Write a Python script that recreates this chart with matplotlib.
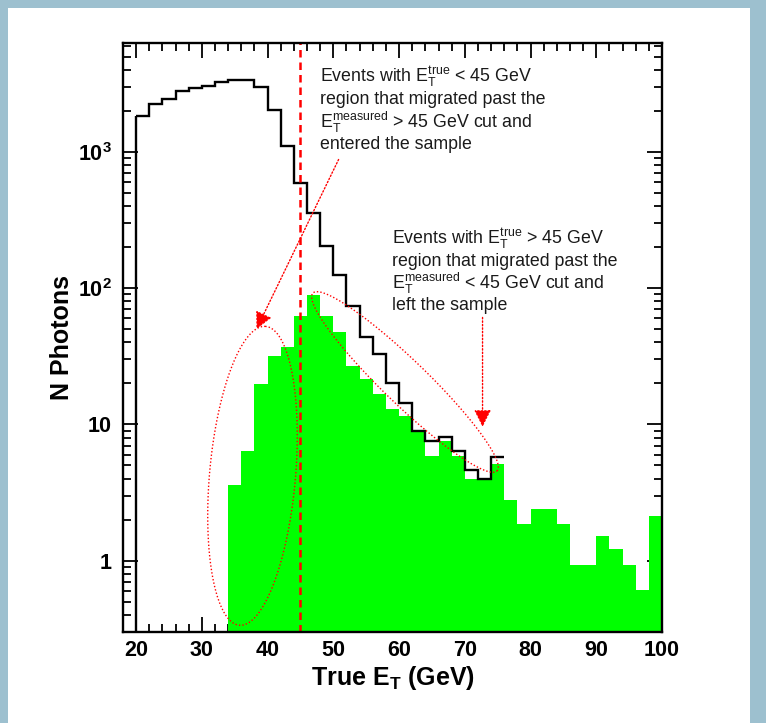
import numpy as np
import matplotlib
matplotlib.use("Agg")
import matplotlib.pyplot as plt
from matplotlib.ticker import FixedLocator, FixedFormatter, MultipleLocator, NullFormatter
from matplotlib.patches import Rectangle

plt.rcParams["font.family"] = ["Liberation Sans", "DejaVu Sans"]
plt.rcParams["mathtext.fontset"] = "custom"
plt.rcParams["mathtext.rm"] = "Liberation Sans"
plt.rcParams["mathtext.bf"] = "Liberation Sans:bold"
plt.rcParams["mathtext.it"] = "Liberation Sans:italic"

# all photons passing measured cut, vs true ET (2 GeV bins, 20..76)
black_edges = np.arange(20, 78, 2)
black_counts = [1820, 2260, 2450, 2790, 2950, 3070, 3240, 3390, 3390, 2980,
                2030, 1100, 590, 355, 203, 124, 74, 44, 33, 20,
                14.3, 9.0, 7.6, 8.1, 6.4, 4.6, 4.0, 5.8]

# migrated photons (2 GeV bins, 34..100)
green_edges = np.arange(34, 102, 2)
green_counts = [3.6, 6.4, 19.8, 32, 37, 63, 89, 63, 48, 27,
                21.5, 16.7, 13, 11.5, 9.0, 5.9, 7.6, 5.9, 4.0, 4.0,
                5.1, 2.8, 1.87, 2.4, 2.4, 1.87, 0.93, 0.93, 1.52, 1.22,
                0.93, 0.61, 2.13]

x_ticks = [20, 30, 40, 50, 60, 70, 80, 90, 100]
y_ticks = [1, 10, 100, 1000]
y_tick_labels = ["1", "10", r"$\mathbf{10^{2}}$", r"$\mathbf{10^{3}}$"]

et_cut = 45
xlim = (18, 100)
ylim = (0.3, 6300)

text_in = ["Events with $\\mathregular{E_T^{true}}$ < 45 GeV",
           "region that migrated past the",
           "$\\mathregular{E_T^{measured}}$ > 45 GeV cut and",
           "entered the sample"]
text_out = ["Events with $\\mathregular{E_T^{true}}$ > 45 GeV",
            "region that migrated past the",
            "$\\mathregular{E_T^{measured}}$ < 45 GeV cut and",
            "left the sample"]

fig = plt.figure(figsize=(7.66, 7.23), dpi=100)
fig.patches.append(Rectangle((0, 0), 1, 1, transform=fig.transFigure,
                             facecolor="#9dc0cf", edgecolor="none", zorder=-10))
fig.patches.append(Rectangle((8 / 766, 0), (750 - 8) / 766, (723 - 8) / 723,
                             transform=fig.transFigure, facecolor="white",
                             edgecolor="none", zorder=-9))

ax = fig.add_axes([123 / 766, 91 / 723, 539 / 766, 589 / 723])
ax.set_facecolor("none")
ax.set_yscale("log")
ax.set_xlim(*xlim)
ax.set_ylim(*ylim)

ax.stairs(green_counts, green_edges, fill=True, baseline=1e-3,
          color="#00ff00", zorder=2)
ax.stairs(black_counts, black_edges, baseline=None, color="black",
          lw=1.7, zorder=3)
ax.vlines(black_edges[0], ylim[0], black_counts[0], color="black", lw=1.7, zorder=3)
ax.axvline(et_cut, color="red", ls=(0, (3, 2)), lw=1.8, zorder=4)

# pixel scale of the axes, used for the dotted ellipses
w_px = 539.0
h_px = 589.0
px_per_gev = w_px / (xlim[1] - xlim[0])
px_per_dec = h_px / (np.log10(ylim[1]) - np.log10(ylim[0]))


def draw_ellipse(cx, cy, a, b, angle):
    t = np.linspace(0, 2 * np.pi, 300)
    ang = np.radians(angle)
    dx = a * np.cos(t) * np.cos(ang) - b * np.sin(t) * np.sin(ang)
    dy = a * np.cos(t) * np.sin(ang) + b * np.sin(t) * np.cos(ang)
    xs = cx + dx / px_per_gev
    ys = 10 ** (np.log10(cy) + dy / px_per_dec)
    ax.plot(xs, ys, color="red", ls=(0, (1, 1.5)), lw=1.0, zorder=5)


draw_ellipse(37.7, 4.2, 150, 43, 85)
draw_ellipse(60.9, 20.5, 128, 22, -44)

arrow = dict(arrowstyle="-|>", color="red", lw=1.0, ls=(0, (1, 1.5)),
             mutation_scale=26, shrinkA=0, shrinkB=0)
ax.annotate("", xy=(38.3, 50), xytext=(50.8, 880), arrowprops=arrow, zorder=5)
ax.annotate("", xy=(72.7, 9.6), xytext=(72.7, 61), arrowprops=arrow, zorder=5)

for i, line in enumerate(text_in):
    ax.text(48.0, 3570 / 10 ** (0.167 * i), line, fontsize=12.8, va="center",
            ha="left", color="#1a1a1a", zorder=6)
for i, line in enumerate(text_out):
    ax.text(58.9, 229 / 10 ** (0.162 * i), line, fontsize=12.8, va="center",
            ha="left", color="#1a1a1a", zorder=6)

ax.xaxis.set_major_locator(FixedLocator(x_ticks))
ax.xaxis.set_minor_locator(MultipleLocator(2))
ax.yaxis.set_major_locator(FixedLocator(y_ticks))
ax.yaxis.set_major_formatter(FixedFormatter(y_tick_labels))
ax.yaxis.set_minor_formatter(NullFormatter())
ax.tick_params(which="both", direction="in", top=True, right=True, width=1.3)
ax.tick_params(which="major", length=11)
ax.tick_params(which="minor", length=5.5)
ax.tick_params(axis="x", which="major", pad=6)
ax.tick_params(axis="y", which="major", pad=8)
for lab in ax.get_xticklabels() + ax.get_yticklabels():
    lab.set_fontsize(15.5)
    lab.set_fontweight("bold")
for sp in ax.spines.values():
    sp.set_linewidth(1.7)
    sp.set_zorder(7)

ax.set_xlabel(r"True $\mathbf{E_{T}}$ (GeV)", fontsize=18, fontweight="bold",
              labelpad=2)
ax.set_ylabel("N Photons", fontsize=18, fontweight="bold", labelpad=3)

fig.savefig("out.png", dpi=100)
